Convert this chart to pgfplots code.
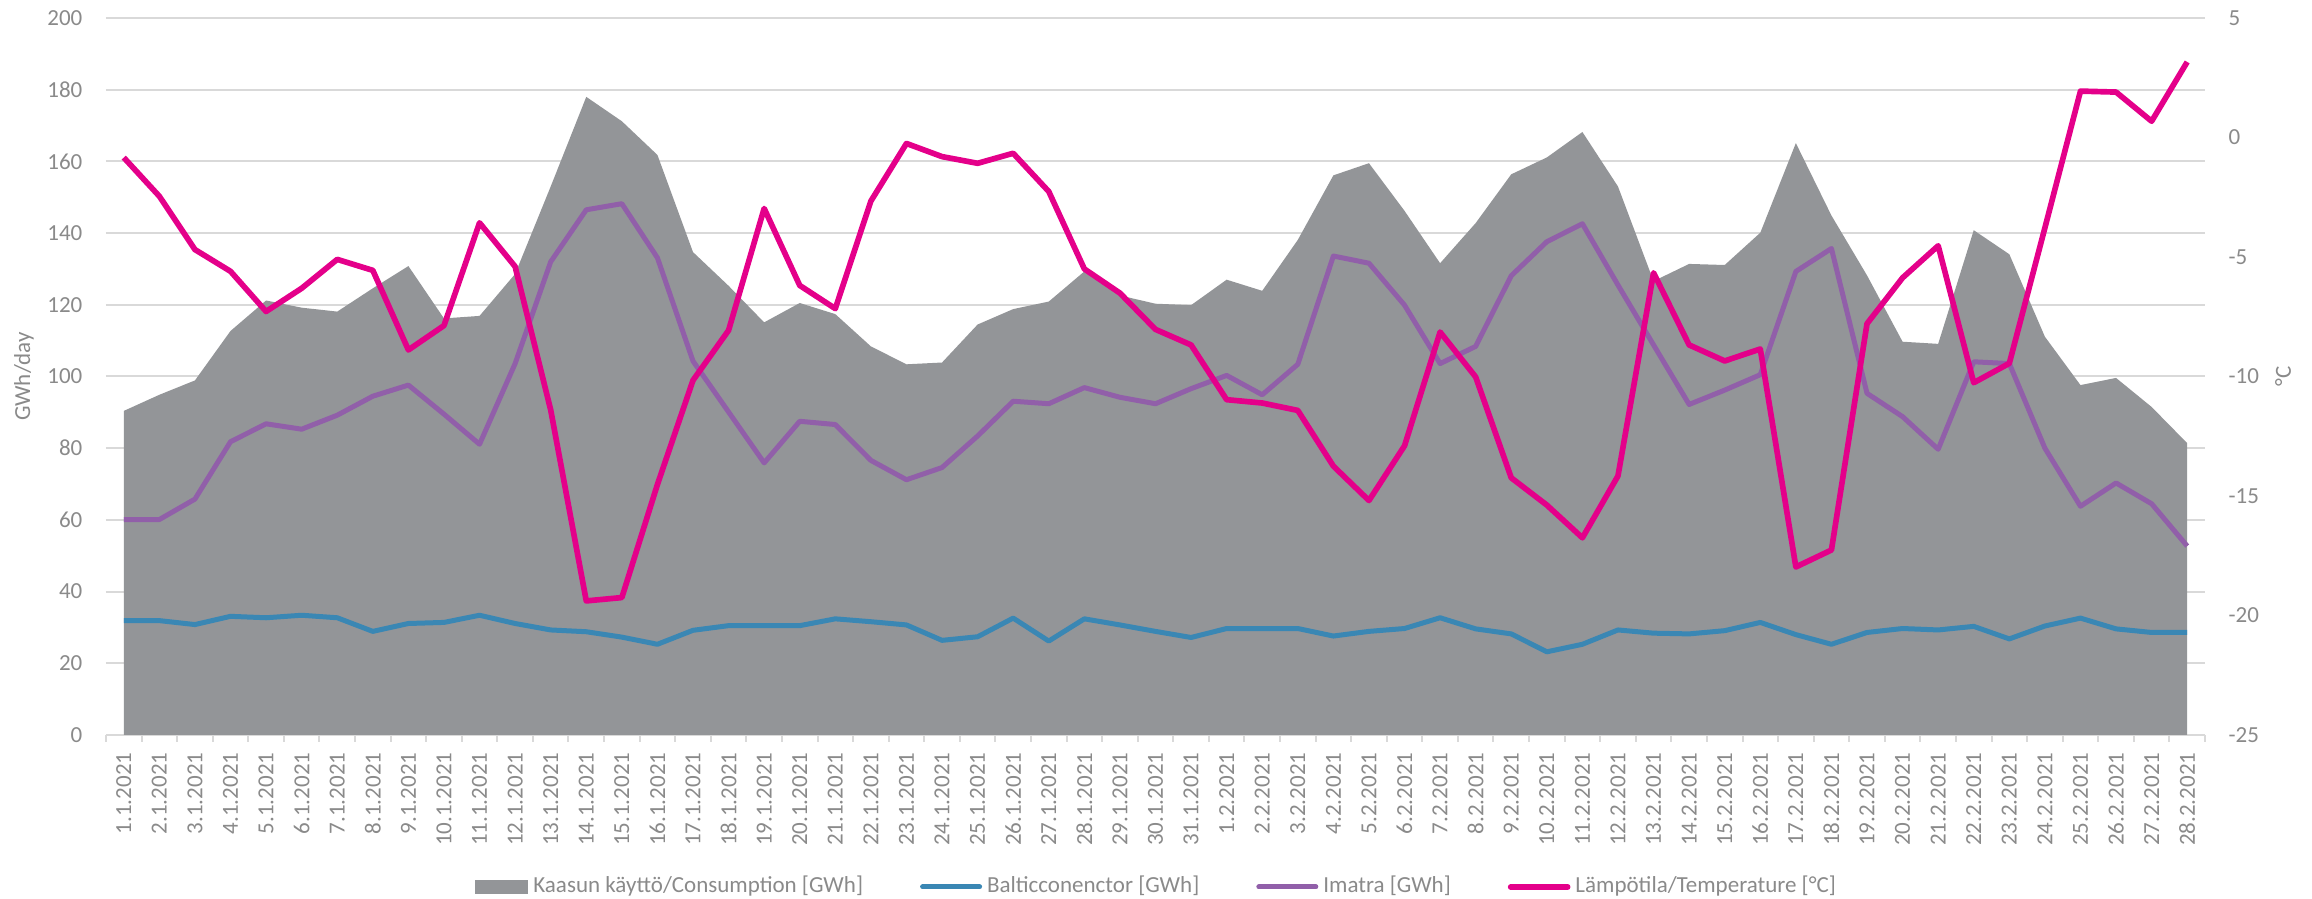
\documentclass[border=0pt]{standalone}
\usepackage{fontspec}
\setmainfont{Carlito}
\usepackage{pgfplots}
\usepackage{pgfplotstable}
\pgfplotsset{compat=1.18}
\definecolor{areagray}{HTML}{939598}
\definecolor{baltblue}{HTML}{3A87B4}
\definecolor{imatrapurple}{HTML}{915FA9}
\definecolor{tempmag}{HTML}{E4008A}
\definecolor{txtgray}{HTML}{8A8A8A}
\definecolor{gridgray}{HTML}{D9D9D9}
\pgfplotsset{
  lineleg/.style={legend image code/.code={\draw[##1,line cap=round] (0pt,0pt) -- (17.1pt,0pt);}},
  boxleg/.style={legend image code/.code={\fill[areagray] (0pt,-1.8pt) rectangle (15.6pt,1.8pt);}},
}
\pgfplotstableread{
x cons balt imatra temp
0 90.4 31.9 60.1 -0.84
1 94.9 31.9 60.1 -2.46
2 98.9 30.8 65.8 -4.69
3 112.7 33.1 81.8 -5.60
4 121.2 32.7 86.8 -7.28
5 119.2 33.4 85.3 -6.31
6 118.1 32.7 89.2 -5.10
7 124.6 28.9 94.5 -5.56
8 130.8 31.1 97.6 -8.89
9 116.2 31.4 89.5 -7.87
10 116.9 33.4 81.1 -3.57
11 128.6 31.1 103.6 -5.40
12 153.0 29.3 132.0 -11.40
13 178.0 28.8 146.5 -19.39
14 171.2 27.3 148.2 -19.25
15 161.8 25.3 133.1 -14.52
16 134.7 29.2 104.3 -10.16
17 125.3 30.5 90.1 -8.07
18 115.1 30.5 75.9 -2.97
19 120.5 30.5 87.5 -6.19
20 117.4 32.4 86.6 -7.16
21 108.4 31.6 76.6 -2.66
22 103.4 30.7 71.2 -0.25
23 103.9 26.4 74.6 -0.80
24 114.5 27.4 83.4 -1.08
25 118.8 32.6 93.1 -0.66
26 120.9 26.2 92.4 -2.26
27 129.3 32.4 96.9 -5.50
28 122.6 30.7 94.2 -6.51
29 120.3 28.9 92.4 -8.03
30 119.9 27.2 96.6 -8.68
31 127.0 29.7 100.3 -10.97
32 123.9 29.7 94.9 -11.11
33 138.1 29.7 103.4 -11.42
34 156.1 27.6 133.6 -13.75
35 159.5 28.9 131.6 -15.19
36 146.2 29.7 119.9 -12.90
37 131.6 32.7 103.6 -8.14
38 142.8 29.6 108.4 -10.02
39 156.4 28.2 128.1 -14.24
40 161.1 23.2 137.6 -15.38
41 168.2 25.3 142.6 -16.75
42 153.0 29.3 125.5 -14.16
43 126.6 28.4 108.8 -5.66
44 131.4 28.2 92.2 -8.68
45 131.1 29.1 96.2 -9.35
46 140.1 31.4 100.5 -8.85
47 165.1 28.0 129.3 -17.97
48 144.9 25.3 135.7 -17.26
49 128.2 28.6 95.3 -7.79
50 109.7 29.7 88.8 -5.87
51 109.1 29.3 79.7 -4.53
52 140.8 30.3 104.1 -10.26
53 134.1 26.8 103.6 -9.45
54 111.1 30.4 80.0 -3.78
55 97.6 32.6 63.8 1.94
56 99.6 29.6 70.3 1.90
57 91.5 28.6 64.5 0.68
58 81.4 28.6 52.7 3.16
}\datatable

\begin{document}
\begin{tikzpicture}[font=\fontsize{6.9}{8.3}\selectfont]
\path[use as bounding box] (0,0) rectangle (693.6pt,269.7pt);
\begin{axis}[
  at={(31.8pt,49.2pt)}, anchor=south west,
  scale only axis, width=629.7pt, height=215.1pt,
  xmin=-0.5, xmax=58.5, ymin=0, ymax=200,
  ytick={0,20,...,200},
  xtick={0,...,58},
  xticklabels={1.1.2021,2.1.2021,3.1.2021,4.1.2021,5.1.2021,6.1.2021,7.1.2021,8.1.2021,9.1.2021,10.1.2021,11.1.2021,12.1.2021,13.1.2021,14.1.2021,15.1.2021,16.1.2021,17.1.2021,18.1.2021,19.1.2021,20.1.2021,21.1.2021,22.1.2021,23.1.2021,24.1.2021,25.1.2021,26.1.2021,27.1.2021,28.1.2021,29.1.2021,30.1.2021,31.1.2021,1.2.2021,2.2.2021,3.2.2021,4.2.2021,5.2.2021,6.2.2021,7.2.2021,8.2.2021,9.2.2021,10.2.2021,11.2.2021,12.2.2021,13.2.2021,14.2.2021,15.2.2021,16.2.2021,17.2.2021,18.2.2021,19.2.2021,20.2.2021,21.2.2021,22.2.2021,23.2.2021,24.2.2021,25.2.2021,26.2.2021,27.2.2021,28.2.2021},
  axis x line*=bottom, axis y line*=left,
  x axis line style={draw=gridgray, line width=0.6pt, -},
  y axis line style={draw=none},
  ymajorgrids, major grid style={draw=gridgray, line width=0.6pt},
  major tick length=0pt,
  minor xtick={-0.5,0.5,...,58.5},
  minor tick length=2.1pt,
  tick align=outside,
  minor x tick style={draw=gridgray, line width=0.6pt},
  major tick style={draw=none},
  tick label style={color=txtgray},
  /pgf/number format/assume math mode=true,
  xticklabel style={rotate=90, anchor=east, inner xsep=5.1pt, inner ysep=0pt},
  yticklabel style={anchor=east, inner sep=0pt, xshift=-6.9pt},
  ylabel={GWh/day},
  ylabel style={at={(axis description cs:-0.03907,0.5)}, anchor=center, rotate=0, color=txtgray},
]
\addplot[fill=areagray, draw=none] table[x=x, y=cons]{\datatable} \closedcycle;
\addplot[baltblue, line width=1.5pt, line join=round] table[x=x, y=balt]{\datatable};
\addplot[imatrapurple, line width=1.5pt, line join=round] table[x=x, y=imatra]{\datatable};
\end{axis}
\begin{axis}[
  at={(31.8pt,49.2pt)}, anchor=south west,
  scale only axis, width=629.7pt, height=215.1pt,
  xmin=-0.5, xmax=58.5, ymin=-25, ymax=5,
  ytick={-25,-20,...,5},
  axis x line=none, axis y line*=right,
  y axis line style={draw=none},
  major tick length=0pt,
  major tick style={draw=none},
  tick label style={color=txtgray},
  /pgf/number format/assume math mode=true,
  yticklabel style={anchor=west, inner sep=0pt, xshift=6.9pt},
  ylabel={°C},
  ylabel style={at={(axis description cs:1.03716,0.5)}, anchor=center, color=txtgray},
  legend style={at={(axis description cs:0.5,0)}, anchor=center, yshift=-45.6pt,
    draw=none, fill=none, text=txtgray, legend columns=4,
    nodes={inner sep=0pt},
    /tikz/every odd column/.append style={column sep=1.5pt},
    /tikz/every even column/.append style={column sep=17.1pt}},
]
\addlegendimage{boxleg}
\addlegendentry{Kaasun käyttö/Consumption [GWh]}
\addlegendimage{baltblue, line width=1.5pt, lineleg}
\addlegendentry{Balticconenctor [GWh]}
\addlegendimage{imatrapurple, line width=1.5pt, lineleg}
\addlegendentry{Imatra [GWh]}
\addplot[tempmag, line width=1.7pt, line join=round, lineleg] table[x=x, y=temp]{\datatable};
\addlegendentry{Lämpötila/Temperature [°C]}
\end{axis}
\end{tikzpicture}
\end{document}
